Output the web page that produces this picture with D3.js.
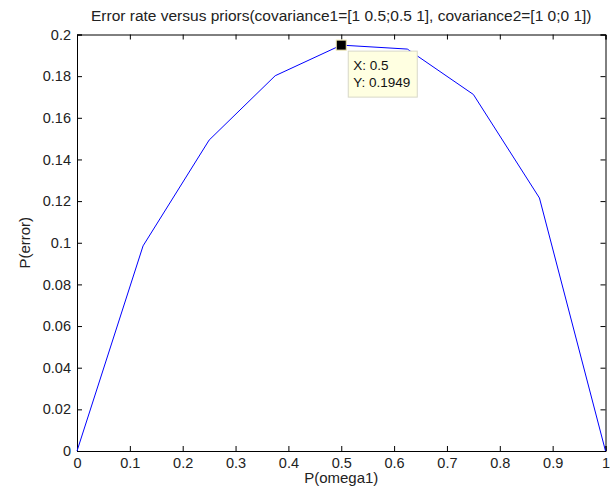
<!DOCTYPE html>
<html>
<head>
  <style>
    body { margin: 0; background: #fff; }
    .tick line, .domain { stroke: #000; }
  </style>
</head>
<body>
  <script src="https://d3js.org/d3.v7.min.js"></script>
  <script>
    // priors P(omega1) and the resulting error rate
    const priors = [0, 0.125, 0.25, 0.375, 0.5, 0.625, 0.75, 0.875, 1];
    const errors = [0, 0.0985, 0.1493, 0.1802, 0.1949, 0.193, 0.1712, 0.1215, 0];
    const xTicks = [0, 0.1, 0.2, 0.3, 0.4, 0.5, 0.6, 0.7, 0.8, 0.9, 1];
    const yTicks = [0, 0.02, 0.04, 0.06, 0.08, 0.1, 0.12, 0.14, 0.16, 0.18, 0.2];
    const tipIndex = 4;

    const font = "Liberation Sans, Arial, sans-serif";
    const width = 612, height = 500;
    const margin = { top: 34.5, right: 6.5, bottom: 49, left: 77 };
    const innerWidth = width - margin.left - margin.right;
    const innerHeight = height - margin.top - margin.bottom;

    const x = d3.scaleLinear().domain([0, 1]).range([0, innerWidth]);
    const y = d3.scaleLinear().domain([0, 0.2]).range([innerHeight, 0]);

    const svg = d3.select("body").append("svg")
      .attr("width", width)
      .attr("height", height)
      .attr("font-family", font);

    const g = svg.append("g")
      .attr("transform", `translate(${margin.left},${margin.top})`);

    // box with inward ticks on all four sides
    g.append("g")
      .attr("transform", `translate(0,${innerHeight})`)
      .call(d3.axisBottom(x).tickValues(xTicks).tickSize(-5).tickPadding(7).tickFormat(d3.format("")))
      .attr("font-size", 14.5).attr("font-family", font)
      .selectAll("text").attr("fill", "#222");
    g.append("g")
      .call(d3.axisLeft(y).tickValues(yTicks).tickSize(-5).tickPadding(6).tickFormat(d3.format("")))
      .attr("font-size", 14.5).attr("font-family", font)
      .selectAll("text").attr("fill", "#222");
    g.append("g")
      .call(d3.axisTop(x).tickValues(xTicks).tickSize(-5))
      .selectAll("text").remove();
    g.append("g")
      .attr("transform", `translate(${innerWidth},0)`)
      .call(d3.axisRight(y).tickValues(yTicks).tickSize(-5))
      .selectAll("text").remove();

    const line = d3.line()
      .x((d, i) => x(priors[i]))
      .y(d => y(d));

    g.append("path")
      .datum(errors)
      .attr("fill", "none")
      .attr("stroke", "#0000ff")
      .attr("stroke-width", 1)
      .attr("d", line);

    // data tip
    const tx = x(priors[tipIndex]), ty = y(errors[tipIndex]);
    g.append("rect")
      .attr("x", tx - 5).attr("y", ty - 5)
      .attr("width", 10).attr("height", 10)
      .attr("fill", "#000")
      .attr("stroke", "#f0e8b0")
      .attr("stroke-width", 1);

    const tip = g.append("g")
      .attr("transform", `translate(${tx + 7},${ty + 6})`);
    tip.append("rect")
      .attr("width", 69).attr("height", 46)
      .attr("fill", "#ffffe1")
      .attr("stroke", "#d8d8c8");
    tip.append("text")
      .attr("x", 5).attr("y", 19)
      .attr("font-size", 13.5).attr("fill", "#111")
      .text("X: " + priors[tipIndex]);
    tip.append("text")
      .attr("x", 5).attr("y", 36)
      .attr("font-size", 13.5).attr("fill", "#111")
      .text("Y: " + errors[tipIndex]);

    // title and axis labels
    svg.append("text")
      .attr("x", margin.left + innerWidth / 2)
      .attr("y", 21)
      .attr("text-anchor", "middle")
      .attr("font-size", 15.5).attr("fill", "#222")
      .text("Error rate versus priors(covariance1=[1 0.5;0.5 1], covariance2=[1 0;0 1])");

    svg.append("text")
      .attr("x", margin.left + innerWidth / 2)
      .attr("y", 483)
      .attr("text-anchor", "middle")
      .attr("font-size", 15).attr("fill", "#222")
      .text("P(omega1)");

    svg.append("text")
      .attr("transform", `translate(30,${margin.top + innerHeight / 2}) rotate(-90)`)
      .attr("text-anchor", "middle")
      .attr("font-size", 15).attr("fill", "#222")
      .text("P(error)");
  </script>
</body>
</html>
